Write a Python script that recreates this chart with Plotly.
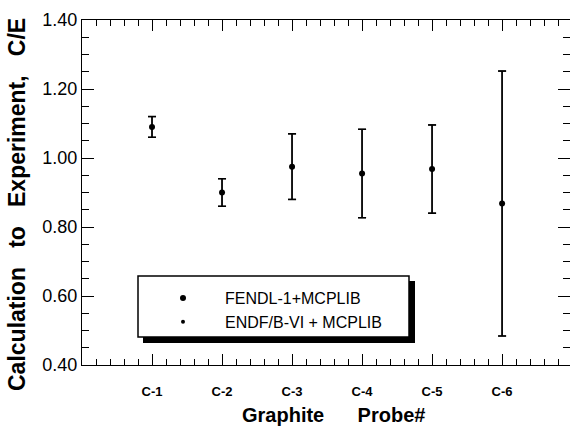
import plotly.graph_objects as go

# ---- data ----
probes = ["C-1", "C-2", "C-3", "C-4", "C-5", "C-6"]
probe_pos = [1, 2, 3, 4, 5, 6]
fendl_ce = [1.09, 0.90, 0.975, 0.955, 0.968, 0.868]
fendl_err = [0.030, 0.040, 0.095, 0.128, 0.128, 0.384]
endf_ce = [1.09, 0.90, 0.975, 0.955, 0.968, 0.868]
endf_err = [0.030, 0.040, 0.095, 0.128, 0.128, 0.384]
y_ticks = [0.40, 0.60, 0.80, 1.00, 1.20, 1.40]
y_tick_labels = ["0.40", "0.60", "0.80", "1.00", "1.20", "1.40"]

W, H = 570, 426
L, R, T, B = 82, 0, 20, 61
pw, ph = W - L - R, H - T - B


def px_x(p):
    return (p - L) / pw


def px_y(p):
    return (H - B - p) / ph


fig = go.Figure()
fig.add_trace(go.Scatter(
    x=probe_pos, y=endf_ce, mode="markers", name="ENDF/B-VI + MCPLIB",
    marker=dict(color="black", size=4, symbol="circle"),
    error_y=dict(type="data", array=endf_err, color="black", thickness=1.2, width=4),
    legendrank=2,
))
fig.add_trace(go.Scatter(
    x=probe_pos, y=fendl_ce, mode="markers", name="FENDL-1+MCPLIB",
    marker=dict(color="black", size=6, symbol="circle"),
    error_y=dict(type="data", array=fendl_err, color="black", thickness=1.5, width=4),
    legendrank=1,
))

# legend box with shadow
fig.add_shape(type="rect", xref="paper", yref="paper",
              x0=px_x(143), x1=px_x(415), y0=px_y(343), y1=px_y(281),
              fillcolor="black", line=dict(width=0), layer="above")
fig.add_shape(type="rect", xref="paper", yref="paper",
              x0=px_x(138), x1=px_x(409), y0=px_y(337), y1=px_y(276),
              fillcolor="white", line=dict(color="black", width=1.5), layer="above")

font_family = "Liberation Sans, Arial, Helvetica, sans-serif"
nb = "\u00a0"

# axis titles as annotations
fig.add_annotation(
    text=f"<b>Calculation{nb*3}to{nb*3}Experiment,{nb*3}C/E</b>",
    xref="paper", yref="paper", x=px_x(17), y=px_y(205),
    xanchor="center", yanchor="middle", textangle=-90, showarrow=False,
    font=dict(size=23, family=font_family, color="black"),
)
fig.add_annotation(
    text=f"<b>Graphite{nb*6}Probe#</b>",
    xref="paper", yref="paper", x=px_x(333), y=px_y(415),
    xanchor="center", yanchor="middle", showarrow=False,
    font=dict(size=20, family=font_family, color="black"),
)

fig.update_layout(
    width=W, height=H,
    margin=dict(l=L, r=R, t=T, b=B, autoexpand=False),
    paper_bgcolor="white", plot_bgcolor="white",
    font=dict(family=font_family, color="black"),
    showlegend=True,
    legend=dict(
        x=px_x(141), y=px_y(281), xanchor="left", yanchor="top",
        bgcolor="rgba(0,0,0,0)", borderwidth=0,
        font=dict(size=16, family=font_family, color="black"),
        itemwidth=74, traceorder="normal", tracegroupgap=0,
    ),
    xaxis=dict(
        range=[0, 6.97], tickmode="array", tickvals=probe_pos, ticktext=probes,
        ticks="inside", ticklen=11, tickwidth=1, tickcolor="black",
        showline=True, linecolor="black", linewidth=1, mirror="ticks",
        showgrid=False, zeroline=False, automargin=False,
        tickfont=dict(size=13, family=font_family, weight="bold"),
        ticklabelstandoff=14,
        minor=dict(dtick=0.2, tick0=0, ticks="inside", ticklen=6, tickcolor="black", showgrid=False),
    ),
    yaxis=dict(
        range=[0.40, 1.40], tickmode="array", tickvals=y_ticks, ticktext=y_tick_labels,
        ticks="inside", ticklen=12, tickwidth=1, tickcolor="black",
        showline=True, linecolor="black", linewidth=1, mirror="ticks",
        showgrid=False, zeroline=False, automargin=False,
        tickfont=dict(size=18, family=font_family),
        minor=dict(dtick=0.05, tick0=0.4, ticks="inside", ticklen=7, tickcolor="black", showgrid=False),
    ),
)

fig.write_html("out.html", config={"displayModeBar": False},
               post_script="document.body.style.margin='0px';document.body.style.overflow='hidden';")
